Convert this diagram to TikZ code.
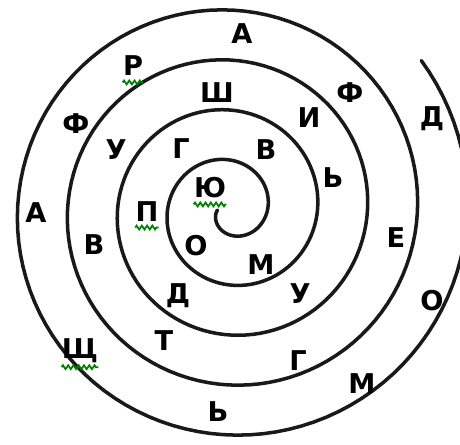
\documentclass[tikz,border=0pt]{standalone}
\usepackage{fontspec}
\setmainfont{DejaVu Sans}
\usetikzlibrary{decorations.pathmorphing}

\tikzset{
  spiral/.style={line width=2pt,line cap=round,black!90},
  lt/.style={font=\fontsize{15.5}{18}\selectfont\bfseries,inner sep=0pt,
    text height=11.3pt,text depth=0pt},
  squig/.style={green!50!black,line width=1pt,decorate,
    decoration={zigzag,amplitude=1.1pt,segment length=3pt}}
}

\begin{document}
\begin{tikzpicture}[x=0.02cm,y=-0.02cm]
  \useasboundingbox (0,0) rectangle (460,444);
  \begin{scope}
    \clip (0,0) rectangle (460,444);
    \draw[spiral] plot[domain=-180:1478,samples=500,variable=\t]
      ({230+(25+(\t+90)/7.2)*cos(\t)},{210-(25+(\t+90)/7.2)*sin(\t)});
  \end{scope}
  % letters between the turns
  \foreach \x/\y/\l [count=\i] in {242/34/А,133/66/Р,217/93/Ш,76/124/Ф,
      116/150/У,181/149/Г,266/150/В,309/118/И,350/93/Ф,432/117/Д,
      333/178/Ь,210/188/Ю,36/213/А,147/212/П,94/245/В,196/246/О,
      261/265/М,396/238/Е,300/294/У,178/294/Д,432/301/О,164/341/Т,
      298/361/Г,80/349/Щ,362/384/М,218/412/Ь}
    \node[lt] (l\i) at (\x,\y) {\l};
  % spell-check squiggles
  \draw[squig] ([yshift=-3.5pt]l2.south west) -- ([yshift=-3.5pt]l2.south east);
  \draw[squig] ([yshift=-3.5pt]l12.south west) -- ([yshift=-3.5pt]l12.south east);
  \draw[squig] ([yshift=-3pt]l14.south west) -- ([yshift=-3pt]l14.south east);
  \draw[squig] ([yshift=-4.5pt]l24.south west) -- ([yshift=-4.5pt]l24.south east);
\end{tikzpicture}
\end{document}
